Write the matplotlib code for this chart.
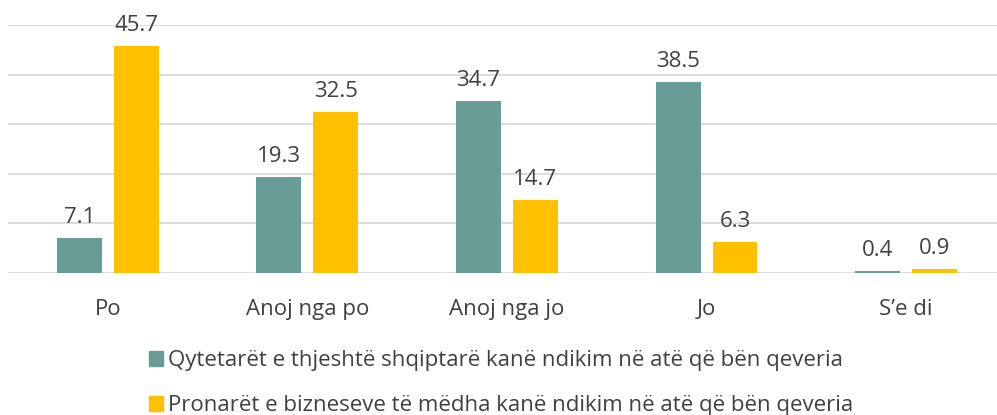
import numpy as np
import matplotlib.pyplot as plt
from matplotlib.patches import Patch

categories = ["Po", "Anoj nga po", "Anoj nga jo", "Jo", "S\u2019e di"]
qytetaret = [7.1, 19.3, 34.7, 38.5, 0.4]
pronaret = [45.7, 32.5, 14.7, 6.3, 0.9]
series_names = [
    "Qytetarët e thjeshtë shqiptarë kanë ndikim në atë që bën qeveria",
    "Pronarët e bizneseve të mëdha kanë ndikim në atë që bën qeveria",
]

teal = "#699C96"
gold = "#FFC000"
txt = "#404040"

plt.rcParams["font.family"] = ["Open Sans", "DejaVu Sans"]

fig = plt.figure(figsize=(9.97, 4.15), dpi=100)
ax = fig.add_axes([8 / 997, 142 / 415, 989 / 997, 248 / 415])

x = np.arange(len(categories))
w = 0.225
off = 0.1425
b1 = ax.bar(x - off, qytetaret, w, color=teal, zorder=3)
b2 = ax.bar(x + off, pronaret, w, color=gold, zorder=3)

for bars, vals in [(b1, qytetaret), (b2, pronaret)]:
    for r, v in zip(bars, vals):
        ax.text(r.get_x() + r.get_width() / 2, v + 2.0, f"{v:.1f}",
                ha="center", va="bottom", fontsize=16, color=txt)

ax.set_xlim(-0.5, 4.455)
ax.set_ylim(0, 50)
ax.set_yticks(np.arange(0, 51, 10))
ax.yaxis.grid(True, color="#D9D9D9", linewidth=1.3, zorder=0)
ax.set_yticklabels([])
ax.tick_params(axis="y", length=0)
ax.set_xticks(x)
ax.set_xticklabels(categories, fontsize=16, color=txt)
ax.tick_params(axis="x", length=0, pad=19)
for s in ax.spines.values():
    s.set_visible(False)

handles = [Patch(color=teal), Patch(color=gold)]
fig.legend(handles, series_names, loc="upper left",
           bbox_to_anchor=(140 / 997, 1 - 341 / 415), frameon=False,
           fontsize=16, labelcolor=txt, handlelength=0.65, handleheight=0.65,
           handletextpad=0.2, labelspacing=1.1, borderaxespad=0)

fig.savefig("out.png", dpi=100)
